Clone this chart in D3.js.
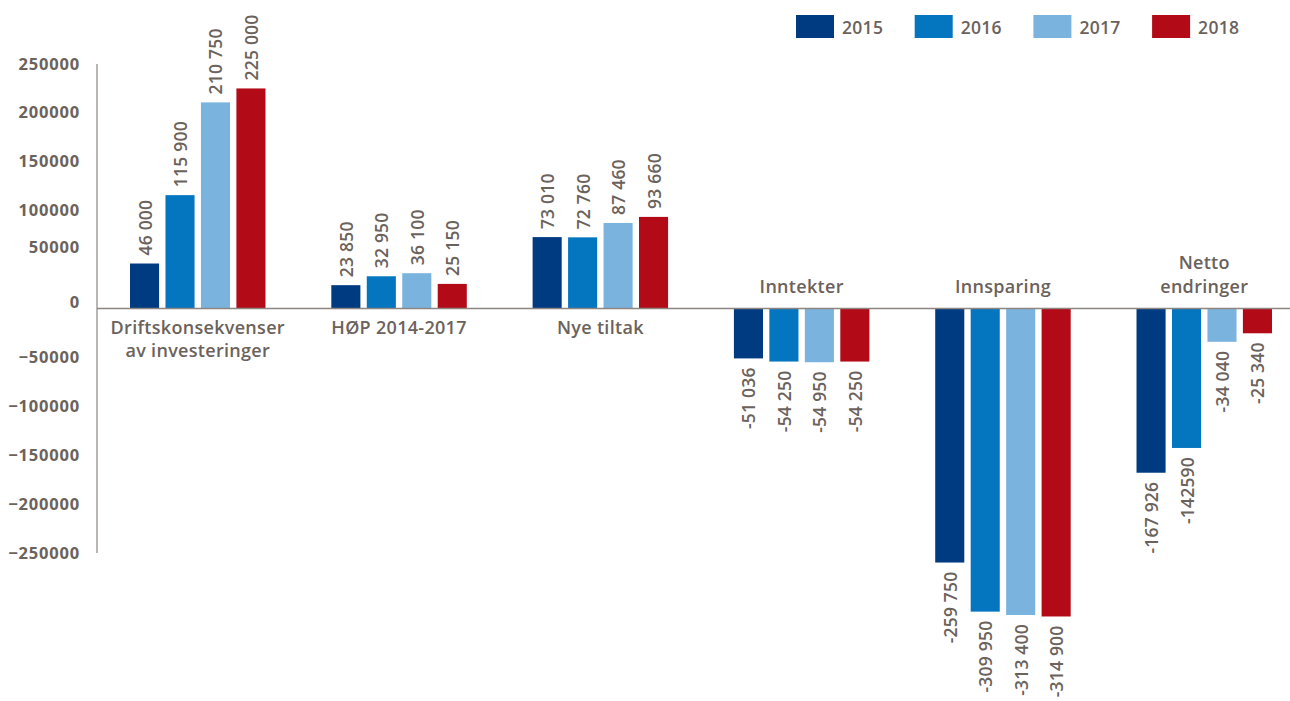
<!DOCTYPE html>
<html>
<head>
<meta charset="utf-8">
<script src="https://cdn.jsdelivr.net/npm/d3@7"></script>
<style>
    body { margin: 0; background: #fff; }
    svg text { font-family: "Open Sans", "DejaVu Sans", sans-serif; fill: #6b625c; }
</style>
</head>
<body>
<svg id="chart" width="1290" height="701"></svg>
<script>
// ==========
// CHART DATA
// ==========
var categories = [
    ["Driftskonsekvenser", "av investeringer"],
    ["HØP 2014-2017"],
    ["Nye tiltak"],
    ["Inntekter"],
    ["Innsparing"],
    ["Netto", "endringer"]
];
var years = ["2015", "2016", "2017", "2018"];
var colors = ["#003b82", "#0476c0", "#7bb3df", "#b20a17"];

var values2015 = [46000, 23850, 73010, -51036, -259750, -167926];
var values2016 = [115900, 32950, 72760, -54250, -309950, -142590];
var values2017 = [210750, 36100, 87460, -54950, -313400, -34040];
var values2018 = [225000, 25150, 93660, -54250, -314900, -25340];

var labels2015 = ["46 000", "23 850", "73 010", "-51 036", "-259 750", "-167 926"];
var labels2016 = ["115 900", "32 950", "72 760", "-54 250", "-309 950", "-142590"];
var labels2017 = ["210 750", "36 100", "87 460", "-54 950", "-313 400", "-34 040"];
var labels2018 = ["225 000", "25 150", "93 660", "-54 250", "-314 900", "-25 340"];

var yTicks = [250000, 200000, 150000, 100000, 50000, 0, -50000, -100000, -150000, -200000, -250000];

var seriesValues = [values2015, values2016, values2017, values2018];
var seriesLabels = [labels2015, labels2016, labels2017, labels2018];

// ######
// # MAIN
// ######
var svg = d3.select("#chart");

var axisX = 97;

var x0 = d3.scaleBand()
    .domain(d3.range(categories.length))
    .range([axisX, 1305])
    .paddingInner(0.327)
    .paddingOuter(0.164);

var x1 = d3.scaleBand()
    .domain(years)
    .range([0, x0.bandwidth()])
    .paddingInner(0.18)
    .paddingOuter(0);

var y = d3.scaleLinear()
    .domain([-250000, 250000])
    .range([553, 64]);

// y axis (labels only, vertical line drawn by hand)
var tickNudge = {"50000": -12, "0": -6};

var yAxis = svg.append("g")
    .attr("transform", "translate(" + axisX + ",0)")
    .call(d3.axisLeft(y).tickValues(yTicks).tickSize(0).tickPadding(17).tickFormat(d3.format("d")));

yAxis.select(".domain").remove();
yAxis.selectAll("text")
    .attr("font-size", "16.5px")
    .attr("font-weight", "bold")
    .attr("letter-spacing", "0.8px")
    .attr("fill", "#6b625c")
    .attr("dy", function (d) {
        return ((tickNudge[String(d)] || 0) + 5) + "px";
    });

svg.append("line")
    .attr("x1", axisX).attr("x2", axisX)
    .attr("y1", y(250000)).attr("y2", y(-250000))
    .attr("stroke", "#8d8580")
    .attr("stroke-width", 1.2);

// bars
function rowsFor(i) {
    return years.map(function (yr, k) {
        return {year: yr, k: k, value: seriesValues[k][i], label: seriesLabels[k][i]};
    });
}

var groups = svg.append("g")
    .selectAll("g")
    .data(categories)
    .enter().append("g")
    .attr("transform", function (d, i) {
        return "translate(" + x0(i) + ",0)";
    });

groups.selectAll("rect")
    .data(function (d, i) { return rowsFor(i); })
    .enter().append("rect")
    .attr("x", function (d) { return x1(d.year); })
    .attr("width", x1.bandwidth())
    .attr("y", function (d) { return y(Math.max(0, d.value)); })
    .attr("height", function (d) { return Math.abs(y(d.value) - y(0)); })
    .attr("fill", function (d) { return colors[d.k]; });

// value labels, rotated
groups.selectAll("text.val")
    .data(function (d, i) { return rowsFor(i); })
    .enter().append("text")
    .attr("class", "val")
    .attr("font-size", "17.5px")
    .attr("font-weight", "600")
    .attr("letter-spacing", "0.2px")
    .attr("dominant-baseline", "central")
    .attr("text-anchor", function (d) { return d.value >= 0 ? "start" : "end"; })
    .attr("transform", function (d) {
        var cx = x1(d.year) + x1.bandwidth() / 2;
        var cy = d.value >= 0 ? y(d.value) - 8 : y(d.value) + 9;
        return "translate(" + cx + "," + cy + ") rotate(-90)";
    })
    .text(function (d) { return d.label; });

// zero line
svg.append("line")
    .attr("x1", axisX).attr("x2", 1290)
    .attr("y1", y(0)).attr("y2", y(0))
    .attr("stroke", "#8d8580")
    .attr("stroke-width", 1.5);

// category labels
groups.each(function (lines, i) {
    var g = d3.select(this);
    var negative = values2015[i] < 0;
    var cx = x0.bandwidth() / 2;
    var t = g.append("text")
        .attr("text-anchor", "middle")
        .attr("font-size", "18px")
        .attr("font-weight", "600")
        .attr("letter-spacing", "0.3px");
    lines.forEach(function (line, j) {
        var baseY = negative ? y(0) - 16 - (lines.length - 1 - j) * 24 : y(0) + 25 + j * 23;
        t.append("tspan")
            .attr("x", cx)
            .attr("y", baseY)
            .text(line);
    });
});

// legend
var legend = svg.append("g")
    .selectAll("g")
    .data(years)
    .enter().append("g")
    .attr("transform", function (d, i) {
        return "translate(" + (796 + i * 118.7) + ",15)";
    });

legend.append("rect")
    .attr("width", 38)
    .attr("height", 23)
    .attr("fill", function (d, i) { return colors[i]; });

legend.append("text")
    .attr("x", 46)
    .attr("y", 19)
    .attr("font-size", "17.5px")
    .attr("font-weight", "600")
    .attr("letter-spacing", "0.3px")
    .text(function (d) { return d; });
</script>
</body>
</html>
